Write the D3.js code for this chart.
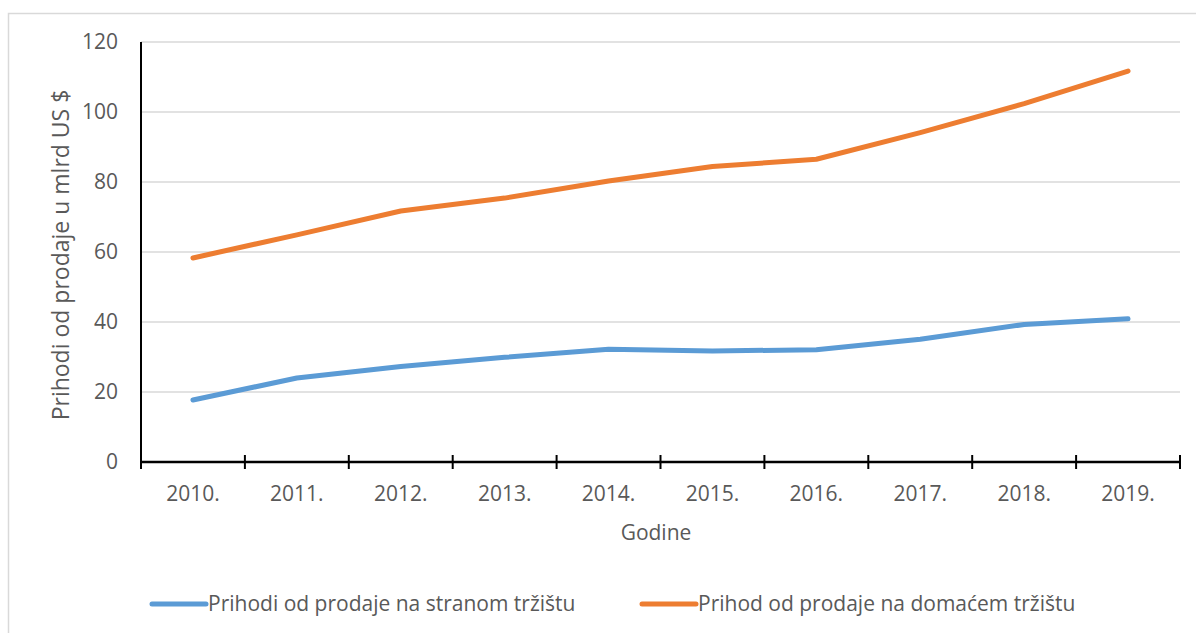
<!DOCTYPE html>
<html>
<head>
  <meta charset="utf-8">
  <title>Prihodi od prodaje</title>
  <script src="https://d3js.org/d3.v7.min.js"></script>
  <style>
    body { margin: 0; background: #fff; }
    text { font-family: "Open Sans", sans-serif; fill: #595959; }
  </style>
</head>
<body>
<script>
  // podaci očitani sa grafikona
  var godine = ["2010.", "2011.", "2012.", "2013.", "2014.", "2015.", "2016.", "2017.", "2018.", "2019."];
  var strano = [17.7, 24.0, 27.3, 29.9, 32.2, 31.7, 32.1, 35.1, 39.3, 40.9];
  var domace = [58.3, 64.9, 71.7, 75.4, 80.3, 84.4, 86.5, 94.1, 102.4, 111.7];
  var yTicks = [0, 20, 40, 60, 80, 100, 120];
  var nazivi = ["Prihodi od prodaje na stranom tržištu", "Prihod od prodaje na domaćem tržištu"];
  var boje = ["#5b9bd5", "#ed7d31"];

  var width = 1196, height = 633;
  var pLeft = 141, pRight = 1180, pTop = 42, pBottom = 462;

  var svg = d3.select("body").append("svg").attr("width", width).attr("height", height);

  // okvir grafikona
  svg.append("rect").attr("x", 8.5).attr("y", 13.5).attr("width", 1200).attr("height", 700)
    .attr("fill", "none").attr("stroke", "#d9d9d9").attr("stroke-width", 1.5);

  var x = d3.scaleBand().domain(godine).range([pLeft, pRight]);
  var y = d3.scaleLinear().domain([0, 120]).range([pBottom, pTop]);

  // mreža
  svg.append("g").selectAll("line").data(yTicks.slice(1)).enter().append("line")
    .attr("x1", pLeft).attr("x2", pRight)
    .attr("y1", function(d) { return y(d); }).attr("y2", function(d) { return y(d); })
    .attr("stroke", "#d9d9d9").attr("stroke-width", 1.5);

  // y osa
  var yAxis = svg.append("g").attr("transform", "translate(" + pLeft + ",0)")
    .call(d3.axisLeft(y).tickValues(yTicks).tickSize(0).tickPadding(23));
  yAxis.select(".domain").remove();
  yAxis.selectAll("text").style("font-size", "21px").attr("fill", "#595959");
  svg.append("line").attr("x1", pLeft).attr("x2", pLeft).attr("y1", pTop).attr("y2", pBottom + 7)
    .attr("stroke", "#000").attr("stroke-width", 2);

  // x osa
  svg.append("line").attr("x1", pLeft).attr("x2", pRight + 1).attr("y1", pBottom).attr("y2", pBottom)
    .attr("stroke", "#000").attr("stroke-width", 2.5);
  var granice = godine.map(function(g) { return x(g); }).concat([pRight]);
  svg.append("g").selectAll("line").data(granice).enter().append("line")
    .attr("x1", function(d) { return d; }).attr("x2", function(d) { return d; })
    .attr("y1", pBottom - 7).attr("y2", pBottom + 7)
    .attr("stroke", "#000").attr("stroke-width", 2);
  svg.append("g").selectAll("text").data(godine).enter().append("text")
    .attr("x", function(d) { return x(d) + x.bandwidth() / 2; })
    .attr("y", 501).attr("text-anchor", "middle").style("font-size", "21px")
    .text(function(d) { return d; });

  // naslovi osa
  svg.append("text").attr("x", 656).attr("y", 540).attr("text-anchor", "middle")
    .style("font-size", "21px").text("Godine");
  svg.append("text").attr("transform", "translate(69,255) rotate(-90)")
    .attr("text-anchor", "middle").style("font-size", "23px").text("Prihodi od prodaje u mlrd US $");

  // linije
  var line = d3.line()
    .x(function(d, i) { return x(godine[i]) + x.bandwidth() / 2; })
    .y(function(d) { return y(d); });
  [strano, domace].forEach(function(serija, k) {
    svg.append("path").datum(serija).attr("d", line)
      .attr("fill", "none").attr("stroke", boje[k]).attr("stroke-width", 5)
      .attr("stroke-linecap", "round").attr("stroke-linejoin", "round");
  });

  // legenda
  var legX = [152, 642];
  nazivi.forEach(function(n, k) {
    svg.append("line").attr("x1", legX[k]).attr("x2", legX[k] + 54).attr("y1", 604).attr("y2", 604)
      .attr("stroke", boje[k]).attr("stroke-width", 5).attr("stroke-linecap", "round");
    svg.append("text").attr("x", legX[k] + 56).attr("y", 611).style("font-size", "21px").text(n);
  });
</script>
</body>
</html>
